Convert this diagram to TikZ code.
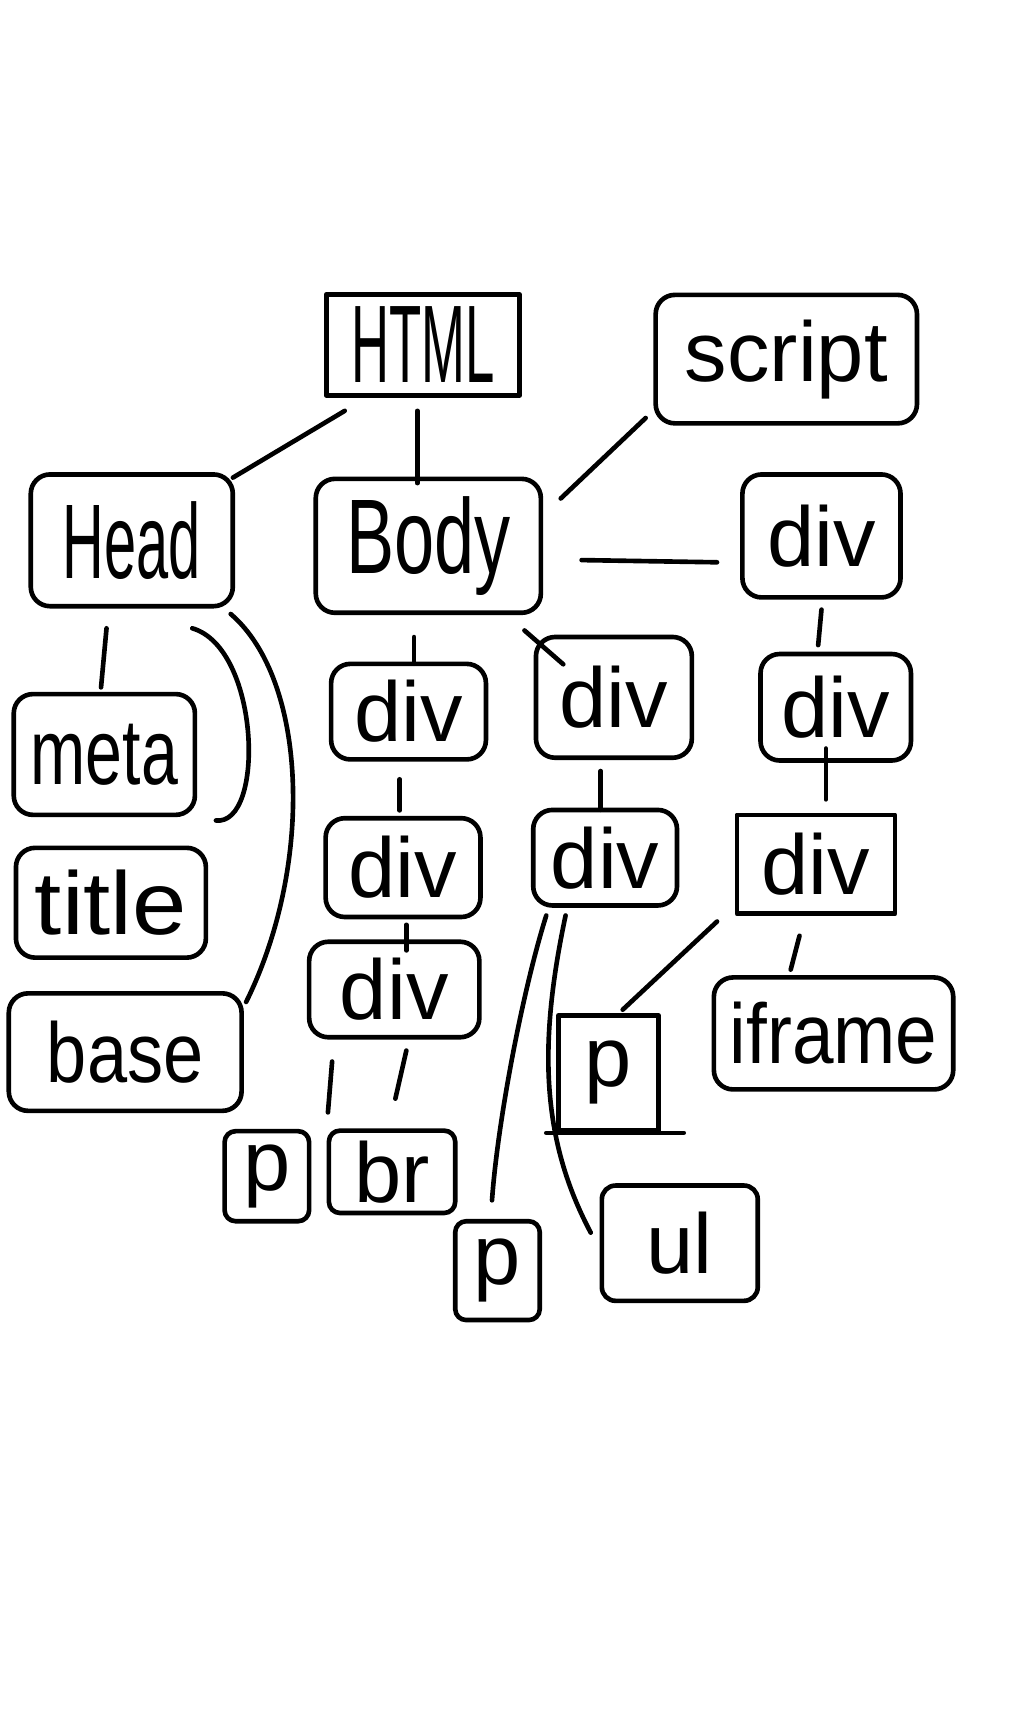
\documentclass[tikz,border=0pt]{standalone}
\usepackage{fontspec}
\setmainfont{Liberation Sans}
\usepackage{graphicx}
\newcommand\handw[3]{\scalebox{#1}[#2]{#3}}
\begin{document}
\begin{tikzpicture}[x=0.02cm,y=-0.02cm, line cap=round, line join=round,
  box/.style={draw, line width=2.4pt, rounded corners=0.35cm, inner sep=0pt,
    font=\fontsize{44}{48}\selectfont},
  link/.style={line width=2.4pt}]
\useasboundingbox (0,0) rectangle (941,1568);

% nodes
\node[box, sharp corners, minimum width=3.52cm, minimum height=1.84cm] (html) at (385,314) {\handw{0.62}{1.3}{HTML}};
\node[box, minimum width=4.76cm, minimum height=2.34cm] (script) at (716,327) {script};
\node[box, minimum width=3.68cm, minimum height=2.4cm] (head) at (120,492) {\handw{0.68}{1.25}{Head}};
\node[box, minimum width=4.1cm, minimum height=2.44cm] (body) at (390,497) {\handw{0.85}{1.25}{Body}};
\node[box, minimum width=2.88cm, minimum height=2.24cm] (divr) at (748,488) {div};
\node[box, minimum width=3.3cm, minimum height=2.2cm] (meta) at (95,687) {\handw{0.78}{1.1}{meta}};
\node[box, minimum width=3.46cm, minimum height=2.0cm] (title) at (101,822) {\handw{1.15}{1.05}{title}};
\node[box, minimum width=4.24cm, minimum height=2.14cm] (base) at (114,958) {\handw{0.85}{1}{base}};
\node[box, minimum width=2.82cm, minimum height=1.74cm] (d11) at (372,648) {div};
\node[box, minimum width=2.82cm, minimum height=1.8cm] (d12) at (367,790) {div};
\node[box, minimum width=3.1cm, minimum height=1.74cm] (d13) at (359,901) {div};
\node[box, minimum width=2.84cm, minimum height=2.2cm] (d21) at (559,635) {div};
\node[box, minimum width=2.62cm, minimum height=1.74cm] (d22) at (551,781) {div};
\node[box, minimum width=2.74cm, minimum height=1.94cm] (d31) at (761,644) {div};
\node[box, sharp corners, minimum width=2.88cm, minimum height=1.8cm] (d32) at (743,787) {div};
\node[box, minimum width=4.36cm, minimum height=2.04cm] (iframe) at (759,941) {\handw{0.88}{1}{iframe}};
\node[box, sharp corners, minimum width=1.82cm, minimum height=2.1cm] (pc) at (554,977) {p};
\node[box, rounded corners=0.2cm, minimum width=1.54cm, minimum height=1.64cm] (p1) at (243,1071) {p};
\node[box, rounded corners=0.2cm, minimum width=2.3cm, minimum height=1.5cm] (br) at (357,1067) {br};
\node[box, rounded corners=0.2cm, minimum width=1.54cm, minimum height=1.8cm] (p2) at (453,1157) {p};
\node[box, rounded corners=0.25cm, minimum width=2.84cm, minimum height=2.1cm] (ul) at (619,1132) {ul};
% extended bottom edge of the small p box
\draw[link] ([xshift=-0.18cm]pc.south west) -- ([xshift=0.42cm]pc.south east);

% connectors
\draw[link] ([shift={(19,12)}]html.south west) -- ([shift={(-2,5)}]head.north east);
\draw[link] ([shift={(-5,12)}]html.south) -- ([shift={(-10,6)}]body.north);
\draw[link] ([shift={(-7,-7)}]script.south west) -- ([shift={(16,20)}]body.north east);
\draw[link] ([shift={(35,13)}]body.east) -- ([shift={(-21,24)}]divr.west);
\draw[link] ([shift={(-23,18)}]head.south) -- ([shift={(-3,-4)}]meta.north);
\draw[link] ([shift={(-4,5)}]head.south east) .. controls +(70,60) and +(62,-125) .. ([shift={(2,10)}]base.north east);
\draw[link] ([shift={(-39,18)}]head.south east) .. controls +(62,18) and +(45,5) .. ([shift={(17,3)}]meta.south east);
\draw[link] ([shift={(-13,20)}]body.south) -- ([shift={(5,2)}]d11.north);
\draw[link] ([shift={(-17,14)}]body.south east) -- ([shift={(27,27)}]d21.north west);
\draw[link] ([shift={(-8,16)}]d11.south) -- ([shift={(-3,-5)}]d12.north);
\draw[link] ([shift={(3,5)}]d12.south) -- ([shift={(11,10)}]d13.north);
\draw[link] ([shift={(23,20)}]d13.south west) -- ([shift={(15,-15)}]p1.north east);
\draw[link] ([shift={(11,10)}]d13.south) -- ([shift={(3,-27)}]br.north);
\draw[link] ([shift={(-12,10)}]d21.south) -- ([shift={(-4,2)}]d22.north);
\draw[link] ([shift={(14,7)}]d22.south west) .. controls +(-22,70) and +(5,-70) .. ([shift={(-5,-17)}]p2.north);
\draw[link] ([shift={(-36,7)}]d22.south) .. controls +(-25,118) and +(-45,-85) .. ([shift={(-8,45)}]ul.north west);
\draw[link] ([shift={(0,9)}]divr.south) -- ([shift={(-16,-6)}]d31.north);
\draw[link] ([shift={(-9,-13)}]d31.south) -- ([shift={(9,-12)}]d32.north);
\draw[link] ([shift={(-15,18)}]d32.south) -- ([shift={(-39,-5)}]iframe.north);
\draw[link] ([shift={(-16,5)}]d32.south west) -- ([shift={(13,-3)}]pc.north);
\end{tikzpicture}
\end{document}
